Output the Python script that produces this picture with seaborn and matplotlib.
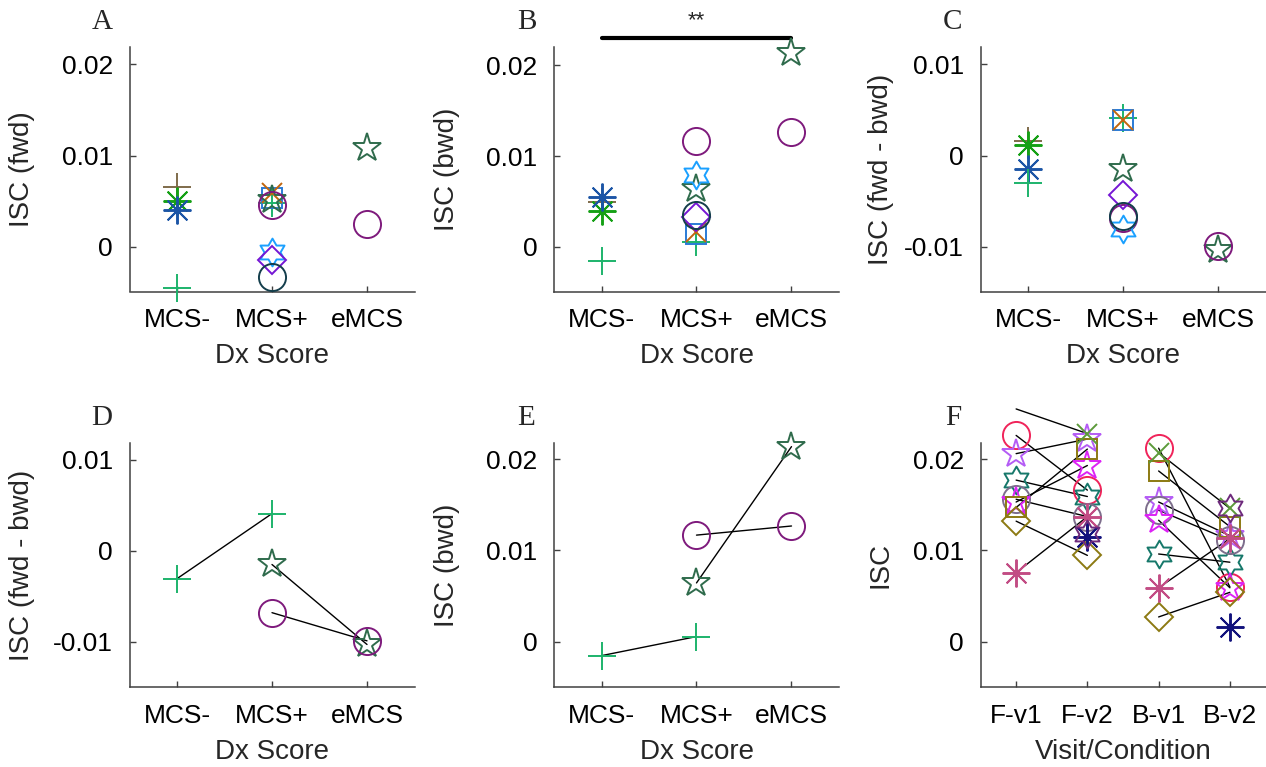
import matplotlib
matplotlib.use("Agg")
import matplotlib.pyplot as plt
from matplotlib.path import Path
import seaborn as sns
import numpy as np
import pandas as pd

# ---- data: panels A-E (one entry per subject/diagnosis) ----
dx_labels = ['MCS-', 'MCS+', 'eMCS']
pt_subject = ['s1', 's2', 's3', 's4', 's4', 's5', 's6', 's7', 's7', 's8', 's8', 's9', 's10', 's11']
pt_dx = ['MCS-', 'MCS-', 'MCS-', 'MCS-', 'MCS+', 'MCS+', 'MCS+', 'MCS+', 'eMCS', 'MCS+', 'eMCS',
         'MCS+', 'MCS+', 'MCS+']
isc_fwd = [0.00658, 0.00504, 0.00402, -0.00456, 0.00476, 0.00531, 0.00586, 0.00512, 0.01079,
           0.00457, 0.00249, -0.00055, -0.00146, -0.00329]
isc_bwd = [0.00496, 0.00396, 0.00551, -0.00154, 0.00055, 0.00148, 0.00165, 0.00643, 0.02137,
           0.01167, 0.01267, 0.0079, 0.0033, 0.00349]
isc_diff = [0.00164, 0.0012, -0.00146, -0.00306, 0.0041, 0.00395, 0.00395, -0.0015, -0.0103,
            -0.0068, -0.0099, -0.0081, -0.0043, -0.0066]

# ---- data: panel F (one value per subject and visit/condition) ----
cond_labels = ['F-v1', 'F-v2', 'B-v1', 'B-v2']
f_subject = ['f1', 'f2', 'f3', 'f4', 'f5', 'f6', 'f7', 'f8', 'f9', 'f10', 'f11']
isc_fv1 = [0.0226, 0.0206, 0.0177, 0.0156, 0.0153, 0.0147, 0.0132, 0.00755, 0.0255, np.nan, np.nan]
isc_fv2 = [0.0166, 0.0222, 0.0159, 0.0137, 0.0193, 0.0211, 0.00945, 0.0137, 0.0228, 0.0115, 0.0118]
isc_bv1 = [0.0212, 0.0153, 0.0096, 0.0144, 0.0133, 0.0187, 0.0027, 0.0059, 0.0207, np.nan, np.nan]
isc_bv2 = [0.0060, 0.0116, 0.0087, 0.0111, 0.0059, 0.0126, 0.0054, 0.0113, 0.0146, 0.0016, 0.0146]

hexagram = Path.unit_regular_star(6, innerCircle=1 / np.sqrt(3))
asterisk = (8, 2, 0)

# marker, size, colour for each subject
style = {
    's1': ('+', 20, '#7f6b4b'), 's2': (asterisk, 20, '#15a015'), 's3': (asterisk, 20, '#1c55a6'),
    's4': ('+', 20, '#1db36b'), 's5': ('s', 14, '#2a7bd6'), 's6': ('x', 15, '#c2660e'),
    's7': ('*', 21, '#2f6b4c'), 's8': ('o', 19.5, '#7e1a7c'), 's9': (hexagram, 20, '#1aa0ff'),
    's10': ('D', 14, '#7516d4'), 's11': ('o', 19.5, '#143e4c'),
    'f1': ('o', 19.5, '#f0245a'), 'f2': ('*', 21, '#b45cf5'), 'f3': (hexagram, 20, '#16786a'),
    'f4': ('o', 19.5, '#7d6e8c'), 'f5': ('*', 21, '#dd22f5'), 'f6': ('s', 14, '#8c7a12'),
    'f7': ('D', 14, '#8c7a12'), 'f8': (asterisk, 20, '#c24c84'), 'f9': ('x', 15, '#5c9a3a'),
    'f10': (asterisk, 20, '#12127c'), 'f11': (hexagram, 20, '#6e2a7c'),
}

sns.set_style("ticks")
plt.rcParams['font.family'] = ['Liberation Sans', 'DejaVu Sans']
plt.rcParams['axes.edgecolor'] = '#404040'
plt.rcParams['axes.linewidth'] = 1.1

df = pd.DataFrame({'subject': pt_subject, 'dx': pt_dx, 'fwd': isc_fwd,
                   'bwd': isc_bwd, 'diff': isc_diff})
df['x'] = df['dx'].map({d: i + 1 for i, d in enumerate(dx_labels)})

fdf = pd.DataFrame({'subject': f_subject, 'F-v1': isc_fv1, 'F-v2': isc_fv2,
                    'B-v1': isc_bv1, 'B-v2': isc_bv2})
flong = fdf.melt(id_vars='subject', var_name='cond', value_name='isc').dropna()
flong['x'] = flong['cond'].map({c: i + 1 for i, c in enumerate(cond_labels)})
flong['pair'] = flong['subject'] + '_' + flong['cond'].str[0]

fig = plt.figure(figsize=(12.66, 7.67), dpi=100)
W, H = 1266, 767
lefts = [129.5, 554, 980.5]
width = 285
tops = [47, 442.7]
height = 244.5


def make_ax(col, row):
    return fig.add_axes([lefts[col] / W, (H - tops[row] - height) / H, width / W, height / H])


def scatter(ax, data, ycol):
    for _, r in data.iterrows():
        m, ms, c = style[r['subject']]
        ax.plot(r['x'], r[ycol], marker=m, ms=ms, mfc='none', mec=c, mew=1.4,
                ls='none', clip_on=False, zorder=3)


def finish(ax, letter, ylabel, xlabel, ticks, ticklabels, xlim, ylim, yticks, ytl, ylab_x):
    ax.set_xlim(*xlim)
    ax.set_ylim(*ylim)
    ax.set_xticks(ticks)
    ax.set_xticklabels(ticklabels)
    ax.set_yticks(yticks)
    ax.set_yticklabels(ytl)
    ax.tick_params(direction='in', length=4, width=1, colors='#404040', labelcolor='black',
                   labelsize=19, pad=12)
    ax.set_ylabel(ylabel, fontsize=20)
    ax.set_xlabel(xlabel, fontsize=20)
    ax.yaxis.set_label_coords(ylab_x, 0.5)
    ax.xaxis.set_label_coords(0.5, -0.21)
    sns.despine(ax=ax)
    ax.text(-0.0965, 1.102, letter, transform=ax.transAxes, ha='center', va='center',
            fontsize=21, family='Liberation Serif')


# A
ax = make_ax(0, 0)
scatter(ax, df, 'fwd')
finish(ax, 'A', 'ISC (fwd)', 'Dx Score', [1, 2, 3], dx_labels, (0.5, 3.5), (-0.0049, 0.0219),
       [0, 0.01, 0.02], ['0', '0.01', '0.02'], -0.33)

# B
ax = make_ax(1, 0)
scatter(ax, df, 'bwd')
ax.plot([1, 3], [0.0230, 0.0230], color='black', lw=3, clip_on=False)
ax.text(2, 0.0249, '**', ha='center', va='center', fontsize=16, clip_on=False)
finish(ax, 'B', 'ISC (bwd)', 'Dx Score', [1, 2, 3], dx_labels, (0.5, 3.5), (-0.0049, 0.022),
       [0, 0.01, 0.02], ['0', '0.01', '0.02'], -0.33)

# C
ax = make_ax(2, 0)
scatter(ax, df, 'diff')
finish(ax, 'C', 'ISC (fwd - bwd)', 'Dx Score', [1, 2, 3], dx_labels, (0.5, 3.5), (-0.0149, 0.0119),
       [-0.01, 0, 0.01], ['-0.01', '0', '0.01'], -0.305)

# D and E: subjects with more than one diagnosis
multi = df[df.duplicated('subject', keep=False)]

ax = make_ax(0, 1)
sns.lineplot(data=multi, x='x', y='diff', units='subject', estimator=None, color='black',
             lw=1, ax=ax, zorder=2)
scatter(ax, multi, 'diff')
finish(ax, 'D', 'ISC (fwd - bwd)', 'Dx Score', [1, 2, 3], dx_labels, (0.5, 3.5), (-0.015, 0.0119),
       [-0.01, 0, 0.01], ['-0.01', '0', '0.01'], -0.33)

ax = make_ax(1, 1)
sns.lineplot(data=multi, x='x', y='bwd', units='subject', estimator=None, color='black',
             lw=1, ax=ax, zorder=2)
scatter(ax, multi, 'bwd')
finish(ax, 'E', 'ISC (bwd)', 'Dx Score', [1, 2, 3], dx_labels, (0.5, 3.5), (-0.005, 0.0218),
       [0, 0.01, 0.02], ['0', '0.01', '0.02'], -0.33)

# F
ax = make_ax(2, 1)
lines = flong[flong.duplicated('pair', keep=False)]
sns.lineplot(data=lines, x='x', y='isc', units='pair', estimator=None, color='black',
             lw=1, ax=ax, zorder=2)
for l in ax.get_lines():
    l.set_clip_on(False)
scatter(ax, flong[flong['isc'] < 0.024], 'isc')
finish(ax, 'F', 'ISC', 'Visit/Condition', [1, 2, 3, 4], cond_labels, (0.5, 4.5), (-0.005, 0.0218),
       [0, 0.01, 0.02], ['0', '0.01', '0.02'], -0.305)

fig.savefig('out.png', dpi=100)
